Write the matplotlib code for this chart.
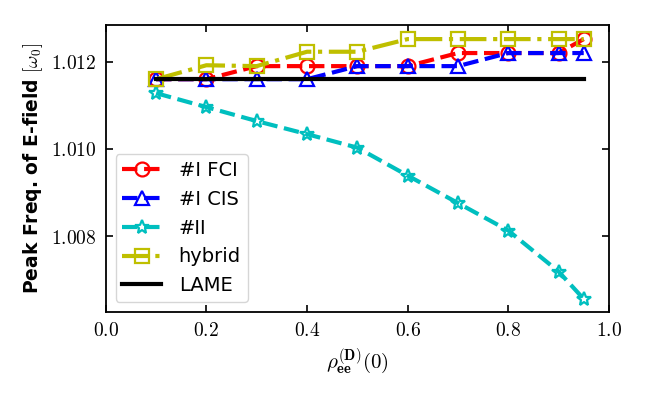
import matplotlib
matplotlib.use("Agg")
import matplotlib.pyplot as plt
from matplotlib.ticker import FuncFormatter

plt.rcParams["mathtext.fontset"] = "cm"

rho = [0.1, 0.2, 0.3, 0.4, 0.5, 0.6, 0.7, 0.8, 0.9, 0.95]
fci = [1.0116, 1.0116, 1.0119, 1.0119, 1.0119, 1.0119, 1.0122, 1.0122, 1.0122, 1.01252]
cis = [1.0116, 1.0116, 1.0116, 1.0116, 1.0119, 1.0119, 1.0119, 1.0122, 1.0122, 1.0122]
ii = [1.01128, 1.01096, 1.01064, 1.01034, 1.01003, 1.00939, 1.00876, 1.00813, 1.00719, 1.00656]
hybrid = [1.0116, 1.01192, 1.0119, 1.01223, 1.01223, 1.01252, 1.01252, 1.01252, 1.01252, 1.01252]
lame_x = [0.1, 0.95]
lame = [1.0116, 1.0116]

fig = plt.figure(figsize=(6.45, 3.99), dpi=100)
ax = fig.add_axes([0.164, 0.219, 0.780, 0.718])

kw = dict(lw=3, ms=10, mfc="none", mew=1.6)
ax.plot(rho, fci, "r--", marker="o", label="#I FCI", **kw)
ax.plot(rho, cis, "b--", marker="^", label="#I CIS", **kw)
ax.plot(rho, ii, "c--", marker="*", label="#II", **kw)
ax.plot(rho, hybrid, "y-.", marker="s", label="hybrid", **kw)
ax.plot(lame_x, lame, "k-", lw=3, label="LAME")

ax.set_xlim(0, 1)
ax.set_ylim(1.00627, 1.01284)
ax.set_xticks([0, 0.2, 0.4, 0.6, 0.8, 1.0])
ax.set_yticks([1.008, 1.010, 1.012])
ax.xaxis.set_major_formatter(FuncFormatter(lambda v, p: "$%.1f$" % v))
ax.yaxis.set_major_formatter(FuncFormatter(lambda v, p: "$%.3f$" % v))
ax.tick_params(direction="in", top=True, right=True, labelsize=14, length=5, width=1.2, pad=7)
for s in ax.spines.values():
    s.set_linewidth(1.3)

ax.set_xlabel(r"$\rho_{\mathbf{ee}}^{(\mathbf{D})}(\mathbf{0})$", fontsize=15)
ax.set_ylabel(r"Peak Freq. of E-field $[\omega_0]$", fontsize=13.5, fontweight="bold")

ax.legend(loc="lower left", fontsize=14, handlelength=2.0, borderpad=0.35, labelspacing=0.5,
          handletextpad=0.9)

fig.savefig("out.png", dpi=100)
